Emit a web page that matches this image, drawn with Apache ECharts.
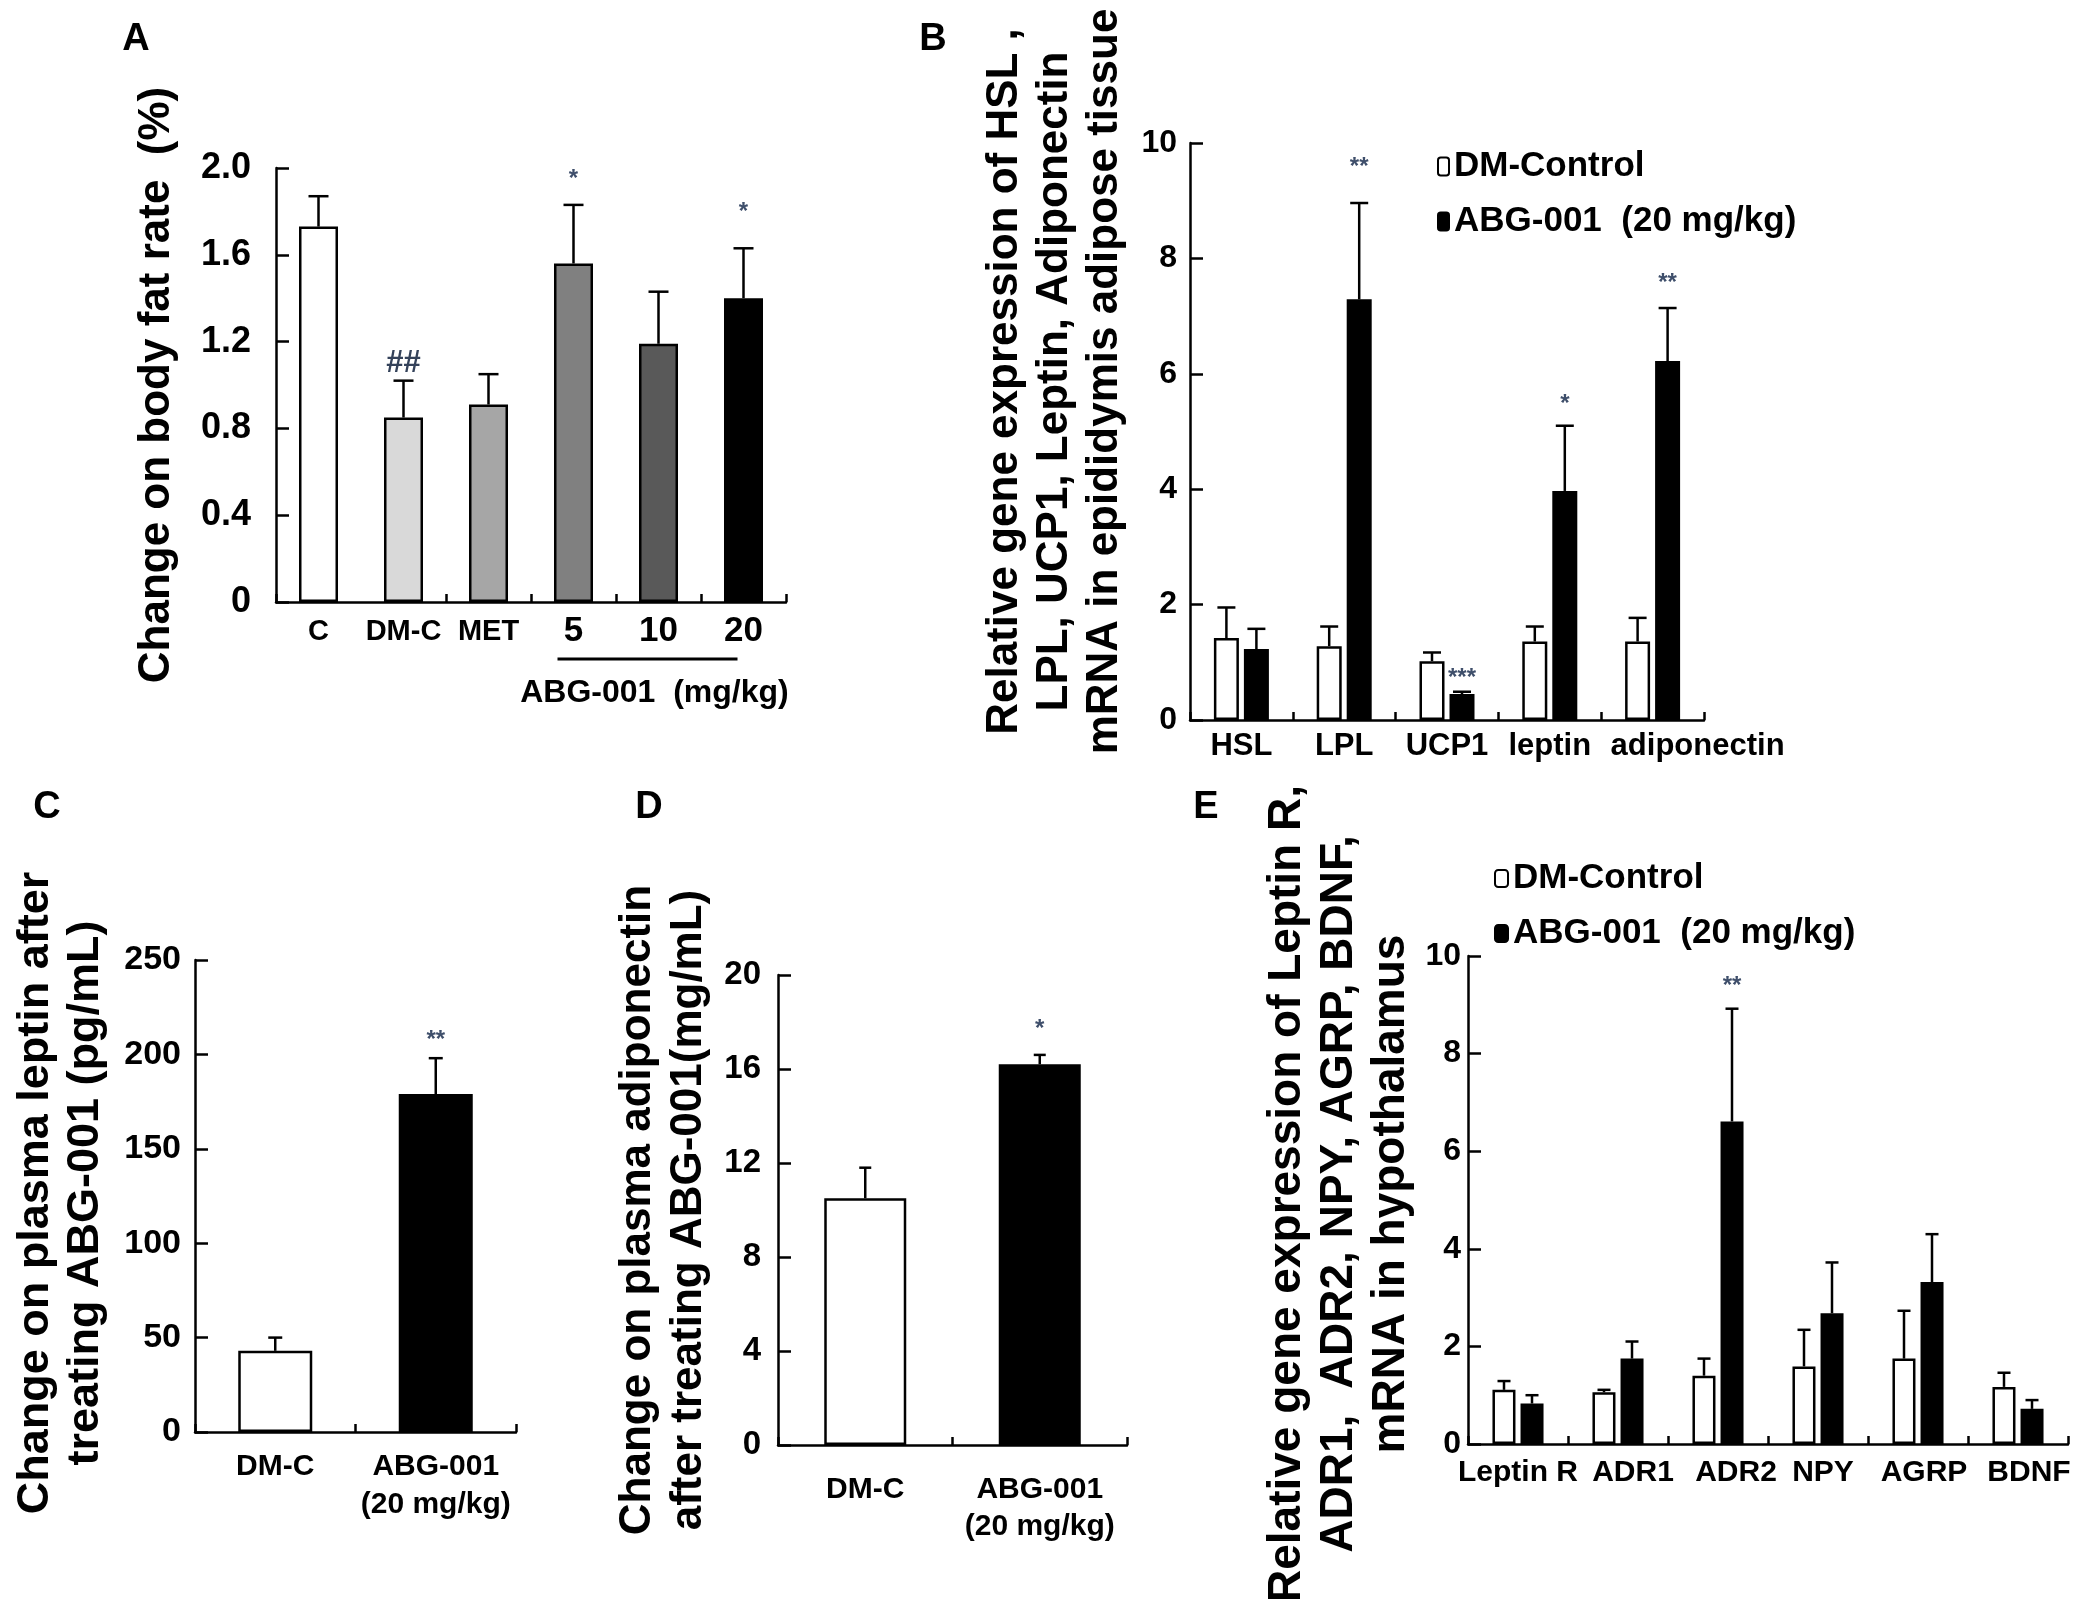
<!DOCTYPE html>
<html><head><meta charset="utf-8">
<script src="https://cdn.jsdelivr.net/npm/echarts@6/dist/echarts.min.js"></script>
<style>html,body{margin:0;padding:0;background:#fff}#c{width:2078px;height:1599px}</style>
</head><body><div id="c"></div>
<script>
const FONT = '"Liberation Sans", Arial, Helvetica, sans-serif';
const SIG_COLOR = '#3f4f6b';

// ---------- Panel A ----------
const aCats = ['C', 'DM-C', 'MET', '5', '10', '20'];
const aMean = [1.73, 0.85, 0.91, 1.56, 1.19, 1.40];
const aErr = [0.14, 0.17, 0.14, 0.27, 0.24, 0.23];
const aColors = ['#ffffff', '#d9d9d9', '#a6a6a6', '#808080', '#595959', '#000000'];
const aSig = ['', '##', '', '*', '', '*'];
const aSigY = [null, 1.10, null, 1.97, null, 1.82];
const aTicks = { min: 0, max: 2.0, interval: 0.4 };

// ---------- Panel B ----------
const bCats = ['HSL', 'LPL', 'UCP1', 'leptin', 'adiponectin'];
const bCtrl = [1.42, 1.28, 1.02, 1.36, 1.36];
const bCtrlErr = [0.53, 0.34, 0.15, 0.26, 0.41];
const bAbg = [1.23, 7.29, 0.45, 3.97, 6.22];
const bAbgErr = [0.35, 1.67, 0.04, 1.13, 0.92];
const bSig = ['', '**', '***', '*', '**'];
const bSigY = [null, 9.67, 0.81, 5.55, 7.66];
const bTicks = { min: 0, max: 10, interval: 2 };

// ---------- Panel C ----------
const cCats = ['DM-C', 'ABG-001\n(20 mg/kg)'];
const cMean = [43, 179];
const cErr = [7, 19];
const cSig = ['', '**'];
const cSigY = [null, 210];
const cTicks = { min: 0, max: 250, interval: 50 };

// ---------- Panel D ----------
const dCats = ['DM-C', 'ABG-001\n(20 mg/kg)'];
const dMean = [10.5, 16.2];
const dErr = [1.3, 0.4];
const dSig = ['', '*'];
const dSigY = [null, 17.9];
const dTicks = { min: 0, max: 20, interval: 4 };

// ---------- Panel E ----------
const eCats = ['Leptin R', 'ADR1', 'ADR2', 'NPY', 'AGRP', 'BDNF'];
const eCtrl = [1.11, 1.06, 1.40, 1.59, 1.75, 1.17];
const eCtrlErr = [0.18, 0.05, 0.35, 0.75, 0.98, 0.29];
const eAbg = [0.83, 1.75, 6.61, 2.68, 3.32, 0.72];
const eAbgErr = [0.17, 0.35, 2.31, 1.04, 0.98, 0.18];
const eSig = ['', '', '**', '', '', ''];
const eSigY = [null, null, 9.49, null, null, null];
const eTicks = { min: 0, max: 10, interval: 2 };

const seriesNames = ['DM-Control', 'ABG-001  (20 mg/kg)'];

// label nudges (style only, px of left padding)
const eLabelPad = [0, 30, 36, 10, 12, 22];

// ---------- helpers ----------
function makeY(o) {
  return {
    type: 'value', gridIndex: o.g, min: o.t.min, max: o.t.max, interval: o.t.interval,
    name: o.name, nameLocation: 'middle', nameRotate: 90, nameGap: o.nameGap, nameMoveOverlap: false,
    nameTextStyle: { fontFamily: FONT, fontWeight: 'bold', fontSize: o.nameSize, lineHeight: o.lh,
      color: '#000', padding: o.pad || [0, 0, 0, 0] },
    axisLine: { show: true, lineStyle: { color: '#000', width: 2.5 } },
    axisTick: { show: true, inside: true, length: 13, lineStyle: { color: '#000', width: 2.5 } },
    axisLabel: { fontFamily: FONT, fontWeight: 'bold', fontSize: o.labelSize, color: '#000',
      margin: o.labelMargin, formatter: o.fmt },
    splitLine: { show: false }
  };
}
function makeX(o) {
  return {
    type: 'category', gridIndex: o.g, data: o.data,
    axisLine: { show: true, lineStyle: { color: '#000', width: 2.5 } },
    axisTick: { show: true, inside: true, length: 8, interval: o.tickInterval !== undefined ? o.tickInterval : 0,
      lineStyle: { color: '#000', width: 2.5 } },
    axisLabel: Object.assign({ interval: 0, fontFamily: FONT, fontWeight: 'bold', fontSize: o.size,
      color: '#000', margin: o.margin, lineHeight: o.lh || o.size + 6 }, o.extra || {}),
    splitLine: { show: false }
  };
}
function errSeries(ax, means, errs, offset, cap) {
  return {
    type: 'custom', xAxisIndex: ax, yAxisIndex: ax, z: 5, silent: true,
    data: means.map((m, i) => [i, m, errs[i]]),
    renderItem: function (params, api) {
      const i = api.value(0), m = api.value(1), e = api.value(2);
      const p0 = api.coord([i, m]);
      const p1 = api.coord([i, m + e]);
      const x = p0[0] + offset;
      const st = { stroke: '#000', lineWidth: 2.5 };
      return { type: 'group', children: [
        { type: 'line', shape: { x1: x, y1: p0[1], x2: x, y2: p1[1] }, style: st },
        { type: 'line', shape: { x1: x - cap / 2, y1: p1[1], x2: x + cap / 2, y2: p1[1] }, style: st }
      ] };
    }
  };
}
function sigSeries(ax, texts, ys, offset) {
  const idx = texts.map((t, i) => i).filter(i => texts[i]);
  return {
    type: 'custom', xAxisIndex: ax, yAxisIndex: ax, z: 6, silent: true,
    data: idx.map(i => [i, ys[i]]),
    renderItem: function (params, api) {
      const i = api.value(0);
      const p = api.coord([i, api.value(1)]);
      const t = texts[i];
      const big = t === '##';
      return { type: 'text', x: p[0] + offset, y: p[1] + (big ? 0 : 5),
        style: { text: t, fontFamily: FONT, fontSize: big ? 31 : 24, fontWeight: 'bold',
          fill: big ? '#34425a' : SIG_COLOR, align: 'center', verticalAlign: 'middle' } };
    }
  };
}
const barStyle = { borderColor: '#000', borderWidth: 2.5 };
const gridBase = { outerBoundsMode: 'none', containLabel: false };

const option = {
  backgroundColor: '#ffffff',
  animation: false,
  grid: [
    Object.assign({ left: 276, top: 168, width: 510, height: 434 }, gridBase),
    Object.assign({ left: 1190, top: 143, width: 514, height: 577 }, gridBase),
    Object.assign({ left: 195, top: 960, width: 321, height: 472 }, gridBase),
    Object.assign({ left: 778, top: 975, width: 349, height: 470 }, gridBase),
    Object.assign({ left: 1468, top: 956, width: 600, height: 488 }, gridBase)
  ],
  legend: [
    { data: seriesNames, orient: 'vertical', left: 1432, top: 144, itemWidth: 11, itemHeight: 18, itemGap: 20,
      selectedMode: false, textStyle: { fontFamily: FONT, fontWeight: 'bold', fontSize: 35, color: '#000' } },
    { data: seriesNames, orient: 'vertical', left: 1489, top: 856, itemWidth: 13, itemHeight: 17, itemGap: 20,
      selectedMode: false, textStyle: { fontFamily: FONT, fontWeight: 'bold', fontSize: 35, color: '#000' } }
  ],
  xAxis: [
    makeX({ g: 0, data: aCats, size: 29, margin: 12, tickInterval: function (i) { return i !== 1; }, extra: {
      formatter: v => (/^\d+$/.test(v) ? '{n|' + v + '}' : '{s|' + v + '}'),
      rich: { s: { fontFamily: FONT, fontWeight: 'bold', fontSize: 29, color: '#000' },
              n: { fontFamily: FONT, fontWeight: 'bold', fontSize: 35, color: '#000' } } } }),
    makeX({ g: 1, data: bCats, size: 31, margin: 8, extra: {
      formatter: v => (v === 'adiponectin' ? '{p|' + v + '}' : v),
      rich: { p: { fontFamily: FONT, fontWeight: 'bold', fontSize: 31, color: '#000', padding: [0, 0, 0, 90] } } } }),
    makeX({ g: 2, data: cCats, size: 30, margin: 16, lh: 38 }),
    makeX({ g: 3, data: dCats, size: 30, margin: 26, lh: 37 }),
    makeX({ g: 4, data: eCats, size: 30, margin: 11, extra: {
      formatter: (v, i) => '{l' + i + '|' + v + '}',
      rich: Object.fromEntries(eLabelPad.map((p, i) => ['l' + i,
        { fontFamily: FONT, fontWeight: 'bold', fontSize: 30, color: '#000', padding: [0, 0, 0, p] }])) } })
  ],
  yAxis: [
    makeY({ g: 0, t: aTicks, name: 'Change on body fat rate  (%)', nameGap: 95, nameSize: 44, lh: 48,
      labelSize: 36, labelMargin: 25, fmt: v => (v === 0 ? '0' : v.toFixed(1)) }),
    makeY({ g: 1, t: bTicks, name: 'Relative gene expression of HSL ,\nLPL, UCP1, Leptin, Adiponectin\nmRNA in epididymis adipose tissue',
      nameGap: 60, nameSize: 44, lh: 50, pad: [0, 0, 0, 100], labelSize: 32, labelMargin: 13 }),
    makeY({ g: 2, t: cTicks, name: 'Change on plasma leptin after\ntreating ABG-001 (pg/mL)', nameGap: 84, nameSize: 45, lh: 50,
      pad: [0, 0, 0, 6], labelSize: 34, labelMargin: 14 }),
    makeY({ g: 3, t: dTicks, name: 'Change on plasma adiponectin\nafter treating ABG-001(mg/mL)', nameGap: 64, nameSize: 44, lh: 51,
      labelSize: 33, labelMargin: 17 }),
    makeY({ g: 4, t: eTicks, name: 'Relative gene expression of Leptin R,\nADR1,  ADR2, NPY, AGRP, BDNF,\nmRNA in hypothalamus',
      nameGap: 51, nameSize: 46, lh: 52, pad: [0, 0, 0, 12], labelSize: 32, labelMargin: 7 })
  ],
  series: [
    // A
    { type: 'bar', xAxisIndex: 0, yAxisIndex: 0, barWidth: 39, itemStyle: barStyle,
      data: aMean.map((v, i) => ({ value: v, itemStyle: { color: aColors[i] } })) },
    errSeries(0, aMean, aErr, 0, 20),
    sigSeries(0, aSig, aSigY, 0),
    // B
    { type: 'bar', name: seriesNames[0], xAxisIndex: 1, yAxisIndex: 1, barWidth: 25, barGap: '20%',
      itemStyle: Object.assign({ color: '#ffffff' }, barStyle), data: bCtrl },
    { type: 'bar', name: seriesNames[1], xAxisIndex: 1, yAxisIndex: 1, barWidth: 25, barGap: '20%',
      itemStyle: Object.assign({ color: '#000000' }, barStyle), data: bAbg },
    errSeries(1, bCtrl, bCtrlErr, -15, 18),
    errSeries(1, bAbg, bAbgErr, 15, 18),
    sigSeries(1, bSig, bSigY, 15),
    // C
    { type: 'bar', xAxisIndex: 2, yAxisIndex: 2, barWidth: 74, itemStyle: barStyle,
      data: cMean.map((v, i) => ({ value: v, itemStyle: { color: i === 0 ? '#ffffff' : '#000000' } })) },
    errSeries(2, cMean, cErr, 0, 14),
    sigSeries(2, cSig, cSigY, 0),
    // D
    { type: 'bar', xAxisIndex: 3, yAxisIndex: 3, barWidth: 82, itemStyle: barStyle,
      data: dMean.map((v, i) => ({ value: v, itemStyle: { color: i === 0 ? '#ffffff' : '#000000' } })) },
    errSeries(3, dMean, dErr, 0, 12),
    sigSeries(3, dSig, dSigY, 0),
    // E
    { type: 'bar', name: seriesNames[0], xAxisIndex: 4, yAxisIndex: 4, barWidth: 23, barGap: '22%',
      itemStyle: Object.assign({ color: '#ffffff' }, barStyle), data: eCtrl },
    { type: 'bar', name: seriesNames[1], xAxisIndex: 4, yAxisIndex: 4, barWidth: 23, barGap: '22%',
      itemStyle: Object.assign({ color: '#000000' }, barStyle), data: eAbg },
    errSeries(4, eCtrl, eCtrlErr, -14, 13),
    errSeries(4, eAbg, eAbgErr, 14, 13),
    sigSeries(4, eSig, eSigY, 14)
  ],
  graphic: [
    { id: 'lA', type: 'text', x: 136, y: 40, style: { text: 'A', font: 'bold 38px ' + FONT, fill: '#000', align: 'center', verticalAlign: 'middle' } },
    { id: 'lB', type: 'text', x: 933, y: 40, style: { text: 'B', font: 'bold 38px ' + FONT, fill: '#000', align: 'center', verticalAlign: 'middle' } },
    { id: 'lC', type: 'text', x: 47, y: 808, style: { text: 'C', font: 'bold 38px ' + FONT, fill: '#000', align: 'center', verticalAlign: 'middle' } },
    { id: 'lD', type: 'text', x: 649, y: 808, style: { text: 'D', font: 'bold 38px ' + FONT, fill: '#000', align: 'center', verticalAlign: 'middle' } },
    { id: 'lE', type: 'text', x: 1206, y: 808, style: { text: 'E', font: 'bold 38px ' + FONT, fill: '#000', align: 'center', verticalAlign: 'middle' } }
  ]
};

const chart = echarts.init(document.getElementById('c'));
chart.setOption(option);

// Group bracket under the ABG-001 doses in panel A, placed from the axis scale
const p5 = chart.convertToPixel({ xAxisIndex: 0, yAxisIndex: 0 }, [aCats.indexOf('5'), 0]);
const p20 = chart.convertToPixel({ xAxisIndex: 0, yAxisIndex: 0 }, [aCats.indexOf('20'), 0]);
chart.setOption({
  graphic: [
    { id: 'brA', type: 'line', shape: { x1: p5[0] - 16, y1: p5[1] + 57, x2: p20[0] - 6, y2: p20[1] + 57 },
      style: { stroke: '#000', lineWidth: 3 } },
    { id: 'brTxt', type: 'text', x: (p5[0] + p20[0]) / 2 - 4, y: p5[1] + 91,
      style: { text: 'ABG-001  (mg/kg)', font: 'bold 32px ' + FONT, fill: '#000', align: 'center', verticalAlign: 'middle' } }
  ]
});
</script>
</body></html>
